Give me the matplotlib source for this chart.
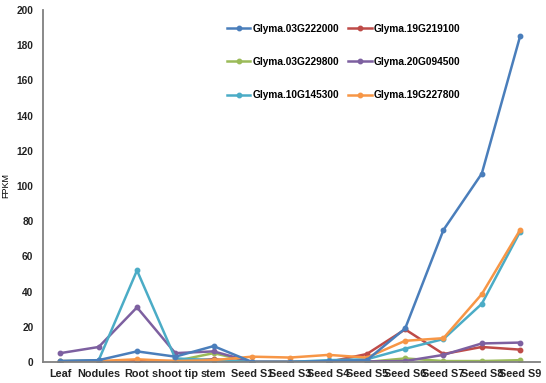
import matplotlib.pyplot as plt

plt.rcParams['font.family'] = ['Liberation Sans', 'DejaVu Sans']
plt.rcParams['font.weight'] = 'bold'

tissues = ['Leaf', 'Nodules', 'Root', 'shoot tip', 'stem', 'Seed S1', 'Seed S3',
           'Seed S4', 'Seed S5', 'Seed S6', 'Seed S7', 'Seed S8', 'Seed S9']

g03G222000 = [0.5, 1, 6, 3, 9, 0, 0, 0.5, 1, 19, 75, 107, 185]
g19G219100 = [0, 0, 0.5, 0.5, 1.5, 0, 0, 0, 4.5, 18.5, 4.5, 8.5, 7]
g03G229800 = [0, 0, 0, 0.5, 5, 0, 0, 0, 0, 2, 0.5, 0.5, 1]
g20G094500 = [5, 8.5, 31, 5, 6, 0, 0, 0, 0.3, 0.5, 4, 10.5, 11]
g10G145300 = [0.5, 1, 52, 2, 1, 0, 0, 1, 1.5, 7.5, 13, 33, 74]
g19G227800 = [0.5, 0.5, 1.5, 0.5, 1, 3, 2.5, 4, 2.5, 12, 13.5, 38.5, 75]

series = [
    ('Glyma.03G222000', g03G222000, '#4A7EBB'),
    ('Glyma.03G229800', g03G229800, '#9BBB59'),
    ('Glyma.10G145300', g10G145300, '#4BACC6'),
    ('Glyma.19G219100', g19G219100, '#BE4B48'),
    ('Glyma.20G094500', g20G094500, '#7D60A0'),
    ('Glyma.19G227800', g19G227800, '#F79646'),
]

fig = plt.figure(figsize=(5.46, 3.83), dpi=100)
ax = fig.add_axes([0.079, 0.055, 0.91, 0.919])

x = list(range(len(tissues)))
# draw order so orange/blue end up on top like the original
draw_order = [1, 3, 4, 2, 5, 0]
lines = {}
for i in draw_order:
    name, vals, col = series[i]
    ln, = ax.plot(x, vals, color=col, lw=1.8, marker='o', ms=3.2, label=name)
    lines[i] = ln

ax.set_xlim(-0.45, 12.52)
ax.set_ylim(0, 200)
ax.set_yticks(range(0, 201, 20))
ax.set_xticks(x)
ax.set_xticklabels(tissues)
ax.tick_params(axis='both', length=0, colors='#222222')
ax.tick_params(axis='x', pad=5, labelsize=7.8)
ax.tick_params(axis='y', pad=7, labelsize=7.3)
ax.set_ylabel('FPKM', fontsize=6.5)
ax.yaxis.set_label_coords(-0.066, 0.5)
for s in ['top', 'right']:
    ax.spines[s].set_visible(False)
for s in ['left', 'bottom']:
    ax.spines[s].set_color('#808080')
    ax.spines[s].set_linewidth(1.3)

ax.legend([lines[i] for i in range(6)], [series[i][0] for i in range(6)],
          ncol=2, frameon=False, loc='upper left', bbox_to_anchor=(0.352, 0.987),
          fontsize=7.3, handlelength=2.3, handletextpad=0.2, labelspacing=2.3,
          columnspacing=0.9)

fig.savefig('out.png', dpi=100)
